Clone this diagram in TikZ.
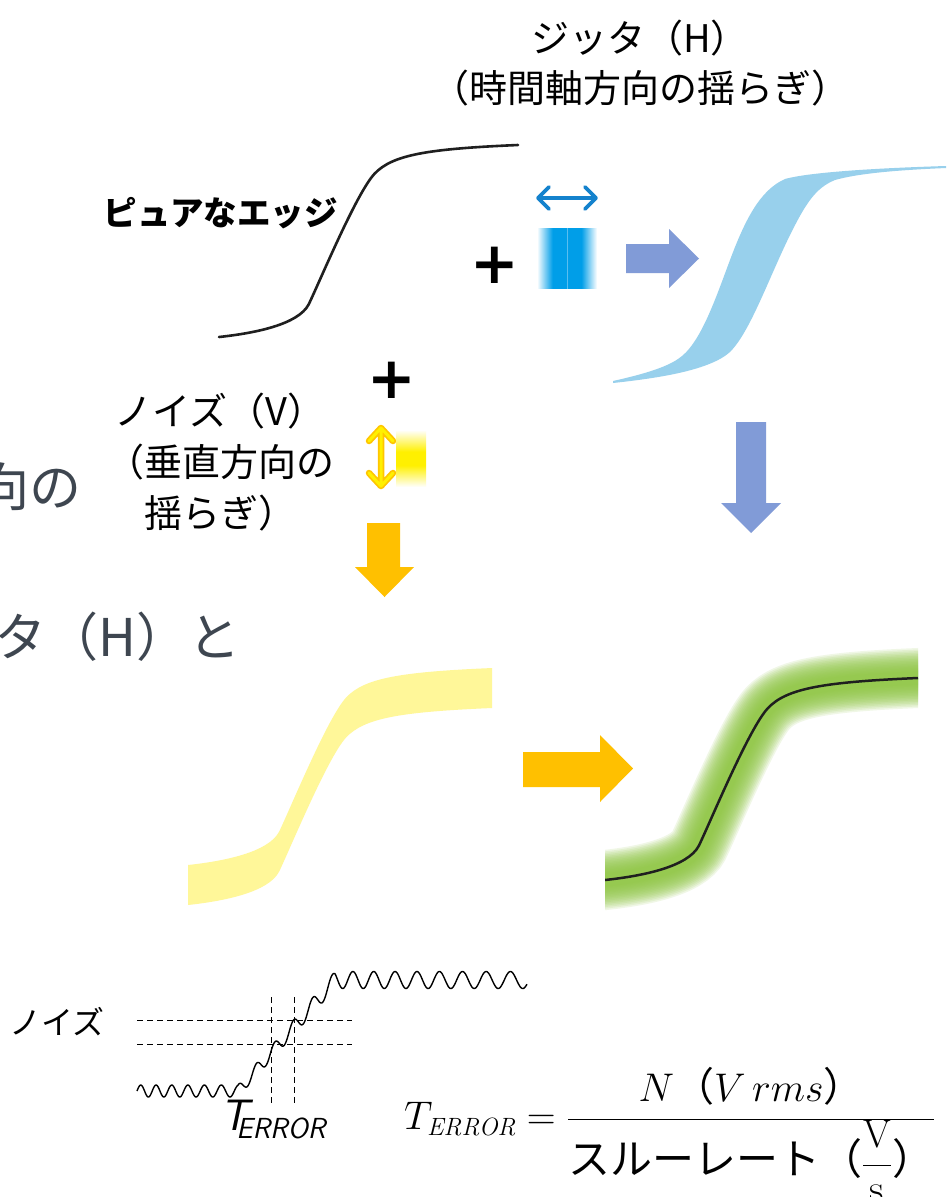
\RequirePackage{fix-cm}
\documentclass[tikz,border=0pt]{standalone}
\usepackage{fontspec}
\newfontfamily\cjk{Noto Sans CJK JP}
\newfontfamily\djv{DejaVu Sans}
\definecolor{jblue}{RGB}{152,208,236}
\definecolor{arrowblue}{RGB}{129,155,215}
\definecolor{orangeA}{RGB}{255,192,0}
\definecolor{ylight}{RGB}{255,247,153}
\definecolor{ybright}{RGB}{255,240,0}
\definecolor{gmid}{RGB}{141,198,63}
\definecolor{deepblue}{RGB}{0,158,232}
\definecolor{paleblue}{RGB}{90,190,240}
\definecolor{darkblue}{RGB}{20,130,205}
\definecolor{slidegray}{RGB}{62,70,80}
\pgfdeclarehorizontalshading{jitbox}{100bp}{color(0bp)=(white); color(25bp)=(white); color(38bp)=(deepblue); color(49.2bp)=(deepblue); color(50bp)=(paleblue); color(50.8bp)=(deepblue); color(62bp)=(deepblue); color(75bp)=(white); color(100bp)=(white)}
\pgfdeclareverticalshading{noisebox}{100bp}{color(0bp)=(white); color(25bp)=(white); color(44bp)=(ybright); color(56bp)=(ybright); color(75bp)=(white); color(100bp)=(white)}
\newcommand\SedgeF[1]{(0,#1) .. controls (0.12,{0.02+#1}) and (0.265,{0.065+#1}) .. (0.3,{0.17+#1}) .. controls (0.34,{0.3+#1}) and (0.46,{0.75+#1}) .. (0.52,{0.85+#1}) .. controls (0.58,{0.95+#1}) and (0.7,{0.98+#1}) .. (1,{1+#1})}
\newcommand\SedgeR[1]{(1,{1+#1}) .. controls (0.7,{0.98+#1}) and (0.58,{0.95+#1}) .. (0.52,{0.85+#1}) .. controls (0.46,{0.75+#1}) and (0.34,{0.3+#1}) .. (0.3,{0.17+#1}) .. controls (0.265,{0.065+#1}) and (0.12,{0.02+#1}) .. (0,#1)}
\tikzset{
  jp/.style={font=\cjk\fontsize{#1}{40}\selectfont, inner sep=0pt},
  jplines/.style={font=\cjk\fontsize{38}{51}\selectfont, align=center, inner sep=0pt},
  slidetext/.style={font=\cjk\fontsize{52}{60}\selectfont, text=slidegray, inner sep=0pt},
  plussign/.style={font=\djv\bfseries\fontsize{58}{64}\selectfont, inner sep=0pt},
  blockblue/.style={fill=arrowblue},
  blockorange/.style={fill=orangeA},
  chevron/.style={line cap=round, line join=round},
  guide/.style={dash pattern=on 6pt off 4pt, line width=1pt},
}
\begin{document}
\begin{tikzpicture}[x=1pt,y=-1pt]
\useasboundingbox (0,0) rectangle (948,1197);
\fill[white] (0,0) rectangle (948,1197);
\clip (0,0) rectangle (948,1197);

% background slide text (cut at left edge)
\node[slidetext, anchor=east] (sg1) at (82,487) {向の};
\node[slidetext, anchor=west] (sg2) at (-6,637) {タ（H）と};

% title of jitter
\node[jplines, font=\cjk\fontsize{38}{50}\selectfont] (jit) at (640,63) {ジッタ（H）\\（時間軸方向の揺らぎ）};

% pure edge
\begin{scope}[shift={(219,337)}, x=299pt, y=192pt]
  \draw[line width=2.6pt, black!88, line cap=round] \SedgeF{0};
\end{scope}
\node[font=\cjk\bfseries\fontsize{33.5}{40}\selectfont, inner sep=0pt, anchor=east] (pure) at (338,213) {ピュアなエッジ};

% plus 1 and jitter icon
\node[plussign] (plus1) at (495,265) {+};
\draw[darkblue, line width=3.8pt, chevron] (538,198) -- (596,198) (549,187) -- (538,198) -- (549,209) (585,187) -- (596,198) -- (585,209);
\shade[shading=jitbox] (537,228) rectangle (597,288);

% blue arrow right
\fill[blockblue] (626,244) -- (669,244) -- (669,229) -- (699,258.5) -- (669,288) -- (669,273) -- (626,273) -- cycle;

% jitter band
\fill[jblue] (613,381) .. controls (640,375) and (665,368) .. (678,359) .. controls (700,345) and (715,300) .. (730,260) .. controls (745,220) and (760,190) .. (785,179) .. controls (810,172) and (880,168) .. (946,166) -- (946,168) .. controls (900,170) and (860,173) .. (835,180) .. controls (815,188) and (805,205) .. (790,235) .. controls (768,280) and (750,332) .. (730,352) .. controls (710,370) and (660,378) .. (613,383) -- cycle;

% blue arrow down
\fill[blockblue] (736,422) -- (766,422) -- (766,503) -- (781,503) -- (751,533) -- (721,503) -- (736,503) -- cycle;

% plus 2 and noise icon
\node[plussign] (plus2) at (392,380) {+};
\node[jplines] (noise) at (220,462) {ノイズ（V）\\（垂直方向の\\揺らぎ）};
\draw[orangeA!90!yellow, line width=6.5pt, chevron] (381,428) -- (381,486) (369,441) -- (381,428) -- (393,441) (369,473) -- (381,486) -- (393,473);
\draw[ybright, line width=3pt, chevron] (381,428) -- (381,486) (369,441) -- (381,428) -- (393,441) (369,473) -- (381,486) -- (393,473);
\shade[shading=noisebox] (396,430) rectangle (426,487);

% orange arrow down
\fill[blockorange] (367,523) -- (400,523) -- (400,567) -- (414,567) -- (384.5,597) -- (355,567) -- (367,567) -- cycle;

% noise band (yellow)
\begin{scope}[shift={(188,905)}, x=304pt, y=197pt]
  \fill[ylight] \SedgeF{0} -- \SedgeR{0.203} -- cycle;
\end{scope}

% orange arrow right
\fill[blockorange] (523,752) -- (600,752) -- (600,735) -- (633,768.5) -- (600,802) -- (600,787) -- (523,787) -- cycle;

% combined band (green)
\begin{scope}[shift={(605,880)}, x=313pt, y=202pt]
  \clip (0,-0.5) rectangle (1,1.5);
  \foreach \i in {0,...,15}
    \draw[gmid, line width={60-3.1*\i}, opacity=0.13, line cap=rect] \SedgeF{0};
  \draw[line width=2.5pt, black!88] \SedgeF{0};
\end{scope}

% noise / T_ERROR illustration
\node[jp=32, anchor=center] (nz) at (57,1022) {ノイズ};
\draw[line width=1.4pt, line join=round] plot[domain=137:527, samples=600, smooth] (\x, {1091-111*min(1,max(0,(\x-238)/97)) - (6+2.5*min(1,max(0,(\x-238)/97)))*sin(14040*ln((15+(\x-137)/39)/15))});
\coordinate (ha1) at (137,1020); \coordinate (hb1) at (352,1020);
\coordinate (ha2) at (137,1044); \coordinate (hb2) at (352,1044);
\coordinate (va1) at (271,997); \coordinate (vb1) at (271,1105);
\coordinate (va2) at (294,997); \coordinate (vb2) at (294,1105);
\draw[guide] (ha1) -- (hb1);
\draw[guide] (ha2) -- (hb2);
\draw[guide] (va1) -- (vb1);
\draw[guide] (va2) -- (vb2);
\node[anchor=base west, inner sep=0pt] (terrL) at (220,1130) {\sffamily\itshape\fontsize{44}{48}\selectfont T\kern-12pt\raisebox{-8pt}{\fontsize{29}{32}\selectfont ERROR}};

% formula
\node[anchor=base west, inner sep=0pt] (formula) at (404,1129) {\fontsize{40}{48}\selectfont$\displaystyle T_{\mbox{\fontsize{25}{28}\selectfont\itshape ERROR}}=\frac{N\mbox{\cjk （}V\,rms\mbox{\cjk ）}}{\mbox{\cjk\fontsize{42}{48}\selectfont スルーレート（}\displaystyle\frac{\mathrm{V}}{\mathrm{s}}\mbox{\cjk\fontsize{42}{48}\selectfont ）}}$};
\end{tikzpicture}
\end{document}
